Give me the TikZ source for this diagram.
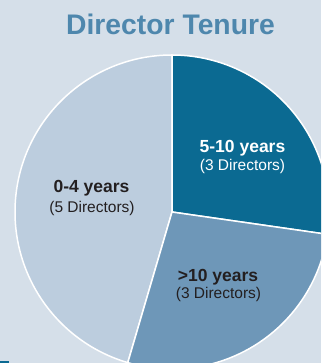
\documentclass[tikz,border=0pt]{standalone}
\usepackage{fontspec}
\setmainfont{Liberation Sans}
\definecolor{bg}{HTML}{D5DFE9}
\definecolor{darkseg}{HTML}{0B6A92}
\definecolor{midseg}{HTML}{6E97B8}
\definecolor{lightseg}{HTML}{BCCDDE}
\definecolor{titlecol}{HTML}{4E87AD}
\definecolor{txt}{HTML}{231F20}
\begin{document}
\begin{tikzpicture}[x=1pt,y=1pt,
  slice/.style={draw=white, line width=1.5pt, line join=round},
  head/.style={anchor=base, inner sep=0pt, font=\bfseries\fontsize{17.5}{20}\selectfont},
  sub/.style={anchor=base, inner sep=0pt, font=\fontsize{15.5}{18}\selectfont}]
\fill[bg] (0,0) rectangle (321,363);
\useasboundingbox (0,0) rectangle (321,363);
\begin{scope}
  \clip (0,0) rectangle (321,363);
  \coordinate (c) at (172,151);
  \filldraw[slice, fill=lightseg] (c) -- ++(90:157) arc[start angle=90, end angle=253.64, radius=157] -- cycle;
  \filldraw[slice, fill=darkseg] (c) -- ++(90:157) arc[start angle=90, end angle=-8.18, radius=157] -- cycle;
  \filldraw[slice, fill=midseg] (c) -- ++(-8.18:157) arc[start angle=-8.18, end angle=-106.36, radius=157] -- cycle;
\end{scope}
\fill[darkseg] (0,0) rectangle (9,2);
\node[anchor=base, inner sep=0pt, text=titlecol, font=\bfseries\fontsize{28.3}{32}\selectfont] (title) at (170.5,328) {Director Tenure};
\node[head, text=white] (a1) at (242.5,210) {5-10 years};
\node[sub, text=white] (a2) at (242.5,192.5) {(3 Directors)};
\node[head, text=txt] (b1) at (91.5,170) {0-4 years};
\node[sub, text=txt] (b2) at (92,150) {(5 Directors)};
\node[head, text=txt] (d1) at (218,81.5) {>10 years};
\node[sub, text=txt] (d2) at (218.5,64) {(3 Directors)};
\end{tikzpicture}
\end{document}
